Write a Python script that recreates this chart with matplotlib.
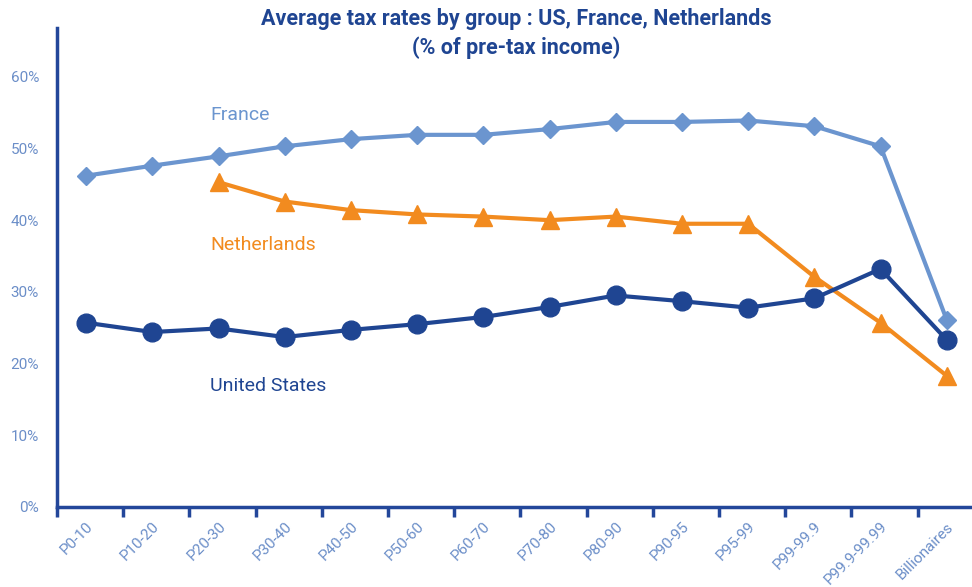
import matplotlib
matplotlib.use("Agg")
import matplotlib.pyplot as plt
import numpy as np

categories = ["P0-10", "P10-20", "P20-30", "P30-40", "P40-50", "P50-60", "P60-70",
              "P70-80", "P80-90", "P90-95", "P95-99", "P99-99.9", "P99.9-99.99", "Billionaires"]
france = [46.2, 47.6, 48.9, 50.3, 51.3, 51.9, 51.9, 52.7, 53.7, 53.7, 53.9, 53.1, 50.3, 26.1]
netherlands = [np.nan, np.nan, 45.3, 42.6, 41.4, 40.8, 40.5, 40.0, 40.5, 39.5, 39.5, 32.1, 25.7, 18.3]
united_states = [25.7, 24.4, 24.9, 23.7, 24.7, 25.5, 26.5, 27.9, 29.5, 28.7, 27.8, 29.1, 33.2, 23.3]
yticks = [0, 10, 20, 30, 40, 50, 60]

C_FR = "#6b95cf"
C_NL = "#f28b1f"
C_US = "#1f4592"
C_AX = "#23479a"
C_TICK = "#6b8ec8"

plt.rcParams['font.family'] = ['Roboto', 'DejaVu Sans']

fig = plt.figure(figsize=(9.72, 5.87), dpi=100)
ax = fig.add_axes([57/972, 80/587, 915/972, 479/587])

x = np.arange(len(categories))
ax.plot(x, france, color=C_FR, lw=3, marker="D", ms=9, zorder=3)
ax.plot(x, netherlands, color=C_NL, lw=3, marker="^", ms=13.5, zorder=3)
ax.plot(x, united_states, color=C_US, lw=3, marker="o", ms=13.5, zorder=4)

left = -0.44
ax.set_xlim(left, left + 915 / 66.2)
ax.set_ylim(0, 66.8)

for s in ["top", "right"]:
    ax.spines[s].set_visible(False)
for s in ["left", "bottom"]:
    ax.spines[s].set_color(C_AX)
    ax.spines[s].set_linewidth(2.5)

ax.set_yticks(yticks)
ax.set_yticklabels([f"{v}%" for v in yticks], color=C_TICK, fontsize=11)
ax.tick_params(axis="y", length=0, pad=13)

ax.set_xticks(np.arange(len(categories)) + left)
ax.set_xticklabels([])
ax.tick_params(axis="x", which="major", length=7, width=2.5, color=C_AX)
ax.set_xticks(x, minor=True)
ax.set_xticklabels(categories, minor=True, rotation=45, ha="right",
                   rotation_mode="anchor", color=C_TICK, fontsize=11)
ax.tick_params(axis="x", which="minor", length=0, pad=9)

ax.text(1.87, 54.6, "France", color=C_FR, fontsize=14, va="center")
ax.text(1.87, 36.6, "Netherlands", color=C_NL, fontsize=14, va="center")
ax.text(1.87, 16.9, "United States", color=C_US, fontsize=14, va="center")

fig.text(0.531, 0.967, "Average tax rates by group : US, France, Netherlands",
         ha="center", va="center", color=C_US, fontsize=15.5, fontweight="bold")
fig.text(0.531, 0.919, "(% of pre-tax income)",
         ha="center", va="center", color=C_US, fontsize=15.5, fontweight="bold")

fig.savefig("out.png", dpi=100)
